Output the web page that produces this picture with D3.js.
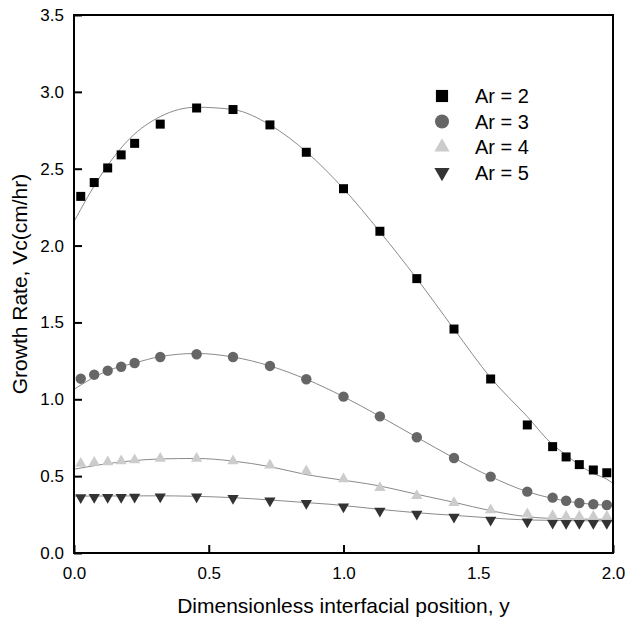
<!DOCTYPE html>
<html>
<head>
<meta charset="utf-8">
<script src="https://cdn.jsdelivr.net/npm/d3@7"></script>
<style>
  body { margin: 0; background: #fff; }
  svg text { font-family: "Liberation Sans", Arial, sans-serif; fill: #000; }
</style>
</head>
<body>
<svg width="625" height="621"></svg>
<script>
// interfacial positions shared by all series
var positions = [0.025, 0.075, 0.125, 0.175, 0.225, 0.32, 0.455, 0.59, 0.727, 0.862, 1.0,
                 1.135, 1.272, 1.41, 1.546, 1.682, 1.776, 1.826, 1.875, 1.927, 1.977];

var ar2 = [2.32, 2.41, 2.505, 2.59, 2.665, 2.79, 2.895, 2.885, 2.785, 2.607, 2.37,
           2.093, 1.785, 1.457, 1.132, 0.833, 0.692, 0.625, 0.575, 0.54, 0.522];
var ar3 = [1.134, 1.16, 1.186, 1.212, 1.236, 1.275, 1.293, 1.275, 1.217, 1.13, 1.017,
           0.889, 0.753, 0.618, 0.497, 0.399, 0.36, 0.34, 0.325, 0.317, 0.312];
var ar4 = [0.582, 0.588, 0.592, 0.599, 0.605, 0.614, 0.614, 0.599, 0.571, 0.534, 0.481,
           0.425, 0.373, 0.327, 0.28, 0.254, 0.243, 0.238, 0.237, 0.237, 0.237];
var ar5 = [0.361, 0.362, 0.362, 0.363, 0.364, 0.366, 0.366, 0.356, 0.34, 0.323, 0.301,
           0.273, 0.254, 0.234, 0.215, 0.204, 0.195, 0.193, 0.193, 0.193, 0.193];

// fitted curves as [x, y]
var fit2 = [[0, 2.156], [0.1, 2.458], [0.208, 2.698], [0.32, 2.839], [0.455, 2.9], [0.59, 2.885],
            [0.727, 2.785], [0.862, 2.61], [1.0, 2.37], [1.135, 2.09], [1.272, 1.785], [1.41, 1.457],
            [1.546, 1.14], [1.682, 0.887], [1.776, 0.705], [1.826, 0.638], [1.875, 0.572],
            [1.927, 0.518], [1.977, 0.48], [2.0, 0.453]];
var fit3 = [[0, 1.065], [0.125, 1.186], [0.225, 1.236], [0.32, 1.278], [0.455, 1.298], [0.59, 1.275],
            [0.727, 1.217], [0.862, 1.13], [1.0, 1.017], [1.135, 0.889], [1.272, 0.753], [1.41, 0.618],
            [1.546, 0.497], [1.682, 0.399], [1.776, 0.355], [1.875, 0.325], [1.977, 0.31], [2.0, 0.306]];
var fit4 = [[0, 0.545], [0.1, 0.575], [0.2, 0.597], [0.32, 0.612], [0.455, 0.615], [0.59, 0.598],
            [0.727, 0.562], [0.862, 0.51], [0.95, 0.486], [1.135, 0.436], [1.272, 0.382], [1.41, 0.33],
            [1.546, 0.275], [1.682, 0.236], [1.826, 0.222], [2.0, 0.219]];
var fit5 = [[0, 0.37], [0.3, 0.372], [0.59, 0.36], [0.727, 0.345], [0.862, 0.328], [0.95, 0.317],
            [1.135, 0.284], [1.272, 0.262], [1.41, 0.245], [1.546, 0.228], [1.682, 0.215], [2.0, 0.208]];

var xTicks = [0, 0.5, 1.0, 1.5, 2.0];
var yTicks = [0, 0.5, 1.0, 1.5, 2.0, 2.5, 3.0, 3.5];

var series = [
  { label: 'Ar = 2', values: ar2, fit: fit2, shape: 'square', color: '#000000' },
  { label: 'Ar = 3', values: ar3, fit: fit3, shape: 'circle', color: '#666666' },
  { label: 'Ar = 4', values: ar4, fit: fit4, shape: 'up',     color: '#cccccc' },
  { label: 'Ar = 5', values: ar5, fit: fit5, shape: 'down',   color: '#333333' }
];

var svg = d3.select('svg');
var plotLeft = 74, plotRight = 613, plotTop = 15, plotBottom = 553;

var x = d3.scaleLinear().domain([0, 2]).range([plotLeft, plotRight]);
var y = d3.scaleLinear().domain([0, 3.5]).range([plotBottom, plotTop]);

// symbol path for each marker shape, k scales the size
function symbolPath(shape, k) {
  if (shape === 'square') return d3.symbol(d3.symbolSquare, 81 * k * k)();
  if (shape === 'circle') return d3.symbol(d3.symbolCircle, 85 * k * k)();
  return d3.symbol(d3.symbolTriangle, 55 * k * k)();
}

// fit lines
var line = d3.line()
  .x(d => x(d[0]))
  .y(d => y(d[1]))
  .curve(d3.curveMonotoneX);

series.forEach(function (s) {
  svg.append('path')
    .attr('d', line(s.fit))
    .attr('fill', 'none')
    .attr('stroke', '#8a8a8a')
    .attr('stroke-width', 1);
});

// markers
series.forEach(function (s) {
  svg.append('g')
    .selectAll('path')
    .data(s.values)
    .enter()
    .append('path')
    .attr('d', symbolPath(s.shape, 1))
    .attr('transform', (d, i) => 'translate(' + x(positions[i]) + ',' + y(d) + ')' + (s.shape === 'down' ? ' rotate(180)' : ''))
    .attr('fill', s.color);
});

// axes, ticks pointing inward
var xAxis = d3.axisBottom(x).tickValues(xTicks).tickFormat(d3.format('.1f')).tickSizeInner(-8).tickSizeOuter(0).tickPadding(14);
var yAxis = d3.axisLeft(y).tickValues(yTicks).tickFormat(d3.format('.1f')).tickSizeInner(-8).tickSizeOuter(0).tickPadding(10);

var gx = svg.append('g').attr('transform', 'translate(0,' + plotBottom + ')').call(xAxis);
var gy = svg.append('g').attr('transform', 'translate(' + plotLeft + ',0)').call(yAxis);
[gx, gy].forEach(function (g) {
  g.select('.domain').remove();
  g.attr('font-size', null).attr('font-family', null);
  g.selectAll('line').attr('stroke', '#000').attr('stroke-width', 2);
  g.selectAll('text').style('font-size', '17px').attr('fill', '#000');
});

// frame
svg.append('rect')
  .attr('x', plotLeft).attr('y', plotTop)
  .attr('width', plotRight - plotLeft).attr('height', plotBottom - plotTop)
  .attr('fill', 'none')
  .attr('stroke', '#000')
  .attr('stroke-width', 2);

// axis titles
svg.append('text')
  .attr('x', (plotLeft + plotRight) / 2)
  .attr('y', 613)
  .attr('text-anchor', 'middle')
  .style('font-size', '21px')
  .text('Dimensionless interfacial position, y');

svg.append('text')
  .attr('transform', 'translate(27,' + (plotTop + plotBottom) / 2 + ') rotate(-90)')
  .attr('text-anchor', 'middle')
  .style('font-size', '21px')
  .text('Growth Rate, Vc(cm/hr)');

// legend
var legend = svg.append('g').attr('transform', 'translate(442,96)');
series.forEach(function (s, i) {
  var row = legend.append('g').attr('transform', 'translate(0,' + (i * 25.5) + ')');
  row.append('path')
    .attr('d', symbolPath(s.shape, 1.35))
    .attr('transform', s.shape === 'down' ? 'rotate(180)' : null)
    .attr('fill', s.color);
  row.append('text')
    .attr('x', 33)
    .attr('y', 7)
    .style('font-size', '20px')
    .text(s.label);
});
</script>
</body>
</html>
